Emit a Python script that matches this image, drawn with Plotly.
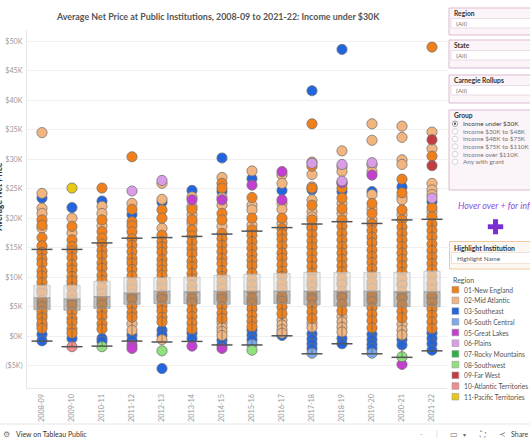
import plotly.graph_objects as go

# ---------------- data (values in $K) ----------------
years = ["2008-09", "2009-10", "2010-11", "2011-12", "2012-13", "2013-14", "2014-15",
         "2015-16", "2016-17", "2017-18", "2018-19", "2019-20", "2020-21", "2021-22"]

region_names = ["01-New England", "02-Mid Atlantic", "03-Southeast", "04-South Central",
                "05-Great Lakes", "06-Plains", "07-Rocky Mountains", "08-Southwest",
                "09-Far West", "10-Atlantic Territories", "11-Pacific Territories"]
region_colors = ["#F0801C", "#F2B57F", "#2165E0", "#7BA9EE", "#C23FD0", "#D99DE8",
                 "#2DB043", "#8FE27C", "#C23C42", "#F28C8C", "#E8C814"]

new_england = {
    "2008-09": [19.7, 18.8, 16.7, 15.3, 14.2, 13.1, 12.3, 11.0, 10.2, 9.1, 8.0, 7.2, 6.1, 5.0, 4.2, 3.1, 2.2, 1.3],
    "2009-10": [18.6, 16.3, 15.2, 14.4, 13.3, 12.1, 11.2, 10.1, 9.3, 8.2, 7.1, 6.0, 5.2, 4.1, 3.0, 2.3, 1.2, 0.5],
    "2010-11": [25.1, 19.7, 17.7, 16.6, 15.6, 14.5, 13.6, 12.4, 11.5, 10.3, 9.4, 8.3, 7.2, 6.4, 5.3, 4.2, 3.3, 2.1, 1.2],
    "2011-12": [30.4, 21.5, 19.4, 18.7, 17.7, 16.5, 15.4, 14.3, 13.2, 12.4, 11.3, 10.2, 9.1, 8.0, 7.1, 6.2, 5.1, 4.0, 3.2],
    "2012-13": [21.4, 20.0, 17.1, 16.0, 15.1, 14.2, 13.0, 12.1, 11.2, 10.3, 9.2, 8.1, 7.0, 6.2, 5.1, 4.3, 3.2, 2.4],
    "2013-14": [21.5, 19.7, 18.0, 17.0, 15.9, 14.8, 13.9, 12.7, 11.8, 10.6, 9.7, 8.6, 7.5, 6.5, 5.6, 4.4, 3.3, 2.2, 1.2],
    "2014-15": [25.9, 25.1, 20.8, 19.7, 17.4, 16.5, 15.4, 14.3, 13.2, 12.3, 11.1, 10.1, 9.2, 8.0, 7.1, 6.2, 5.0, 3.9, 3.0],
    "2015-16": [23.5, 20.0, 18.0, 17.1, 16.0, 14.9, 13.8, 12.8, 11.9, 10.7, 9.6, 8.7, 7.6, 6.5, 5.5, 4.6, 3.5, 2.5, 1.6],
    "2016-17": [20.0, 18.2, 17.3, 16.4, 15.3, 14.1, 13.2, 12.1, 11.0, 10.1, 9.0, 7.9, 6.8, 5.9, 4.9, 3.8],
    "2017-18": [36.0, 28.8, 25.1, 22.2, 19.7, 18.3, 17.2, 16.1, 15.1, 14.0, 12.9, 11.8, 10.7, 9.6, 8.5, 7.4, 6.3, 5.2, 4.1, 3.0],
    "2018-19": [25.1, 23.4, 21.6, 19.7, 18.6, 17.4, 16.3, 15.2, 14.1, 13.0, 11.9, 10.9, 9.8, 8.7, 7.6, 6.5, 5.4, 4.3],
    "2019-20": [22.5, 20.8, 19.0, 17.9, 16.8, 15.8, 14.6, 13.5, 12.5, 11.4, 10.3, 9.2, 8.1, 7.0, 5.9, 4.8, 3.7, 2.6, 1.4],
    "2020-21": [26.6, 24.3, 21.4, 19.7, 18.5, 17.4, 16.3, 15.2, 14.1, 13.0, 11.9, 10.8, 9.7, 8.6, 7.5, 6.4, 5.3, 4.2, 3.1],
    "2021-22": [49.0, 30.5, 21.8, 20.2, 19.0, 17.9, 16.8, 15.6, 14.5, 13.4, 12.3, 11.2, 10.1, 9.0, 7.9, 6.8, 5.7, 4.6, 3.5, 2.4, 1.3],
}
mid_atlantic = {
    "2008-09": [34.5, 24.2, 21.7, 20.8, 18.3, 7.6, 5.6, 3.6, 1.8],
    "2009-10": [20.0, 17.5, 8.6, 6.6],
    "2010-11": [22.0, 20.8, 18.7, 7.8, 5.8],
    "2011-12": [22.5, 8.5, 6.6, 2.1, 1.0],
    "2012-13": [25.9, 23.2, 18.3, 8.7, 6.6, -0.6],
    "2013-14": [23.6, 22.0, 20.6, 19.1, 8.2, 6.0],
    "2014-15": [26.9, 23.5, 22.2, 18.6, 8.5, 6.6, 2.3, 1.5, 0.8, 0.1],
    "2015-16": [28.0, 22.2, 21.4, 18.8, 8.2, 6.0],
    "2016-17": [27.3, 25.9, 22.5, 21.5, 19.1, 8.4, 6.3, 2.7, 1.9, 1.1, 0.5],
    "2017-18": [29.5, 27.4, 25.3, 23.1, 21.1, 20.2, 18.6, 8.9, 6.8, 2.2, 1.5],
    "2018-19": [31.4, 28.7, 27.9, 25.9, 22.5, 20.8, 9.1, 6.9, 3.3, 2.4, 1.5, 0.7],
    "2019-20": [36.0, 33.2, 29.0, 27.9, 24.0, 21.6, 19.7, 8.7, 6.4],
    "2020-21": [35.6, 33.7, 29.9, 29.1, 23.6, 23.1, 20.6, 8.9, 6.6, 2.0, 1.0, 0.2],
    "2021-22": [34.6, 31.8, 25.9, 24.8, 24.0, 21.1, 8.7, 6.5],
}
southeast = {
    "2008-09": [23.4, 0.3, -0.8], "2009-10": [21.8, -0.4], "2010-11": [22.9, -0.4, -0.9],
    "2011-12": [20.6, 0.2, -0.7], "2012-13": [22.7, 1.0, 0.2, -5.5], "2013-14": [24.7, 0.5, -0.4],
    "2014-15": [30.2, 24.5, -0.7, -1.5], "2015-16": [26.7, 1.0, 0.2, -0.6], "2016-17": [24.7, 0.1],
    "2017-18": [41.6, 24.8, 0.4, -0.5, -1.3, -2.1], "2018-19": [48.6, 24.5, -0.4, -1.3],
    "2019-20": [24.5, 0.3, -0.6, -1.4, -2.1], "2020-21": [25.3, -0.6, -1.5],
    "2021-22": [22.8, 0.5, -0.4, -1.3, -2.4],
}
south_central = {"2015-16": [-1.4], "2017-18": [-2.9], "2019-20": [-2.9]}
great_lakes = {"2011-12": [-1.5, -2.1], "2013-14": [23.1, -1.7], "2014-15": [23.1, -2.1],
               "2015-16": [25.6], "2016-17": [27.9, 23.1], "2018-19": [26.0], "2019-20": [27.3],
               "2020-21": [-4.8]}
plains = {"2011-12": [24.6], "2012-13": [26.4], "2017-18": [29.3], "2018-19": [29.1, 26.3],
          "2019-20": [29.4], "2021-22": [23.4]}
rocky_mountains = {}
southwest = {"2010-11": [-1.8], "2012-13": [-2.5], "2015-16": [-2.4], "2020-21": [-3.5]}
far_west = {"2021-22": [33.3, 28.9]}
atlantic_territories = {"2009-10": [-1.8]}
pacific_territories = {"2009-10": [25.1]}

# box plot statistics ($K)
box_q1 = [4.5, 4.4, 4.7, 5.4, 5.5, 5.5, 5.4, 5.4, 5.5, 5.3, 5.1, 5.1, 5.0, 5.0]
box_median = [6.5, 6.3, 6.7, 7.3, 7.6, 7.5, 7.6, 7.6, 7.6, 7.6, 7.6, 7.6, 7.5, 7.5]
box_q3 = [8.6, 8.6, 9.3, 9.9, 9.9, 10.0, 10.3, 10.5, 10.6, 10.8, 10.8, 10.8, 10.8, 11.0]
whisker_high = [14.7, 14.7, 15.8, 16.6, 16.7, 16.9, 17.3, 17.8, 18.4, 19.0, 19.4, 19.1, 19.7, 19.8]
whisker_low = [-0.85, -1.8, -1.7, -0.85, -1.0, -0.9, -1.5, -1.5, 0.05, -3.0, -1.3, -3.0, -3.6, -2.5]

y_ticks = [-5, 0, 5, 10, 15, 20, 25, 30, 35, 40, 45, 50]
y_ticktext = ["($5K)", "$0K", "$5K", "$10K", "$15K", "$20K", "$25K", "$30K", "$35K",
              "$40K", "$45K", "$50K"]

group_options = ["Income under $30K", "Income $30K to $48K", "Income $48K to $75K",
                 "Income $75K to $110K", "Income over $110K", "Any with grant"]

# ---------------- figure ----------------
W, H = 530, 442
L, R, T, B = 27, 83, 30, 54
PW, PH = W - L - R, H - T - B
FONT = "Lato"


def px(x):
    return (x - L) / PW


def py(y):
    return (H - B - y) / PH


fig = go.Figure()

region_data = [new_england, mid_atlantic, southeast, south_central, great_lakes, plains,
               rocky_mountains, southwest, far_west, atlantic_territories, pacific_territories]
draw_order = [2, 3, 1, 0, 4, 5, 6, 7, 8, 9, 10]
for ri in draw_order:
    d = region_data[ri]
    xs, ys = [], []
    for yi, yr in enumerate(years):
        for v in d.get(yr, []):
            xs.append(yi)
            ys.append(v * 1000)
    fig.add_trace(go.Scatter(
        x=xs, y=ys, mode="markers", name=region_names[ri], showlegend=False,
        marker=dict(size=10.2, color=region_colors[ri],
                    line=dict(width=0.9, color="rgba(115,115,115,0.85)")),
        hoverinfo="skip"))

# box (two-tone) overlays
bw = 0.27
lo_x, lo_y, up_x, up_y = [], [], [], []
for i in range(len(years)):
    lo_x += [i - bw, i + bw, i + bw, i - bw, i - bw, None]
    lo_y += [box_q1[i] * 1000, box_q1[i] * 1000, box_median[i] * 1000, box_median[i] * 1000,
             box_q1[i] * 1000, None]
    up_x += [i - bw, i + bw, i + bw, i - bw, i - bw, None]
    up_y += [box_median[i] * 1000, box_median[i] * 1000, box_q3[i] * 1000, box_q3[i] * 1000,
             box_median[i] * 1000, None]
fig.add_trace(go.Scatter(x=up_x, y=up_y, mode="lines", fill="toself",
                         fillcolor="rgba(228,228,228,0.62)",
                         line=dict(color="rgba(190,190,190,0.9)", width=0.8),
                         showlegend=False, hoverinfo="skip"))
fig.add_trace(go.Scatter(x=lo_x, y=lo_y, mode="lines", fill="toself",
                         fillcolor="rgba(135,135,135,0.5)",
                         line=dict(color="rgba(150,150,150,0.9)", width=0.8),
                         showlegend=False, hoverinfo="skip"))

# whisker stems
wx, wy = [], []
for i in range(len(years)):
    wx += [i, i, None, i, i, None]
    wy += [box_q3[i] * 1000, whisker_high[i] * 1000, None,
           box_q1[i] * 1000, whisker_low[i] * 1000, None]
fig.add_trace(go.Scatter(x=wx, y=wy, mode="lines",
                         line=dict(color="rgba(90,90,90,0.6)", width=1),
                         showlegend=False, hoverinfo="skip"))
# whisker caps
cap_x = list(range(len(years))) * 2
cap_y = [v * 1000 for v in whisker_high] + [v * 1000 for v in whisker_low]
fig.add_trace(go.Scatter(x=cap_x, y=cap_y, mode="markers",
                         marker=dict(symbol="line-ew", size=15,
                                     line=dict(width=1.5, color="#555555")),
                         showlegend=False, hoverinfo="skip"))

fig.update_xaxes(range=[-0.5, len(years) - 0.5], tickmode="array",
                 tickvals=list(range(len(years))), ticktext=years, tickangle=-90,
                 tickfont=dict(family=FONT, size=7.3, color="#9a9a9a"),
                 showgrid=False, zeroline=False, showline=True, linecolor="#e8e8e8",
                 ticks="outside", ticklen=2, tickcolor="rgba(0,0,0,0)", automargin=False,
                 fixedrange=True)
fig.update_yaxes(range=[-8800, 51900], tickmode="array",
                 tickvals=[v * 1000 for v in y_ticks], ticktext=y_ticktext,
                 tickfont=dict(family=FONT, size=7.2, color="#9a9a9a"),
                 showgrid=True, gridcolor="#f0f0f0", gridwidth=1, zeroline=False,
                 showline=True, linecolor="#e8e8e8",
                 ticks="outside", ticklen=2, tickcolor="rgba(0,0,0,0)", automargin=False,
                 fixedrange=True)

shapes = []
ann = []


def rect(x0, y0, x1, y1, fill, line, lw=1):
    shapes.append(dict(type="rect", xref="paper", yref="paper", x0=px(x0), x1=px(x1),
                       y0=py(y1), y1=py(y0), fillcolor=fill,
                       line=dict(color=line, width=lw), layer="above"))


def text(x, y, s, size=7, color="#333", xanchor="left", bold=False, italic=False,
         angle=0):
    ann.append(dict(xref="paper", yref="paper", x=px(x), y=py(y), text=s, showarrow=False,
                    xanchor=xanchor, yanchor="middle", textangle=angle,
                    font=dict(family=FONT, size=size, color=color,
                              weight="bold" if bold else "normal",
                              style="italic" if italic else "normal")))


# title and axis title
text(218, 16, "Average Net Price at Public Institutions, 2008-09 to 2021-22: Income under $30K",
     size=8.9, color="#555555", xanchor="center", bold=True)
text(-1.2, 197, "Average Net Price", size=8.5, color="#333333", xanchor="center", bold=True,
     angle=-90)

# filter panels
panel_fill, panel_line = "#fbf4f9", "#dcb9d3"
for (top, bot, title) in [(8, 35, "Region"), (40, 68, "State"), (75, 103, "Carnegie Rollups")]:
    rect(449, top, 533, bot, panel_fill, panel_line)
    rect(451, top + 10.5, 533, top + 20, "#ffffff", "#e6d6e2", 0.8)
    text(451.5, top + 4.5, title, size=6.7, color="#333333", bold=True)
    text(453.5, top + 15.3, "(All)", size=6.5, color="#777777")

rect(449, 110, 533, 190, panel_fill, panel_line)
text(451.5, 115, "Group", size=6.7, color="#333333", bold=True)
opt_y = [123.7, 131.3, 138.9, 146.5, 154.1, 161.7]
for k, (oy, s) in enumerate(zip(opt_y, group_options)):
    shapes.append(dict(type="circle", xref="paper", yref="paper", x0=px(452.3), x1=px(457.7),
                       y0=py(oy + 2.7), y1=py(oy - 2.7), fillcolor="#ffffff",
                       line=dict(color="#888888" if k == 0 else "#cccccc", width=0.8),
                       layer="above"))
    if k == 0:
        shapes.append(dict(type="circle", xref="paper", yref="paper", x0=px(453.9),
                           x1=px(456.1), y0=py(oy + 1.1), y1=py(oy - 1.1),
                           fillcolor="#444444", line=dict(width=0), layer="above"))
    text(460.5, oy, s, size=6.4, color="#444444" if k == 0 else "#777777")

# hover hint and plus
text(456, 205, "Hover over + for info", size=9, color="#8a4fe0", italic=True)
rect(487.8, 224.3, 503.2, 229.2, "#7a2fd4", "#7a2fd4", 0)
rect(493.0, 219.2, 498.0, 234.3, "#7a2fd4", "#7a2fd4", 0)

# highlight panel
rect(449.5, 241.5, 533, 269, "#fdf7f1", "#f2c79f")
text(451.5, 247.5, "Highlight Institution", size=6.8, color="#333333", bold=True)
rect(451.5, 252.5, 533, 263.5, "#ffffff", "#eeddd0", 0.8)
text(454.5, 258, "Highlight Name", size=6.3, color="#555555")

# legend
text(451, 279.5, "Region", size=7, color="#555555")
leg_y = [289.7, 300.4, 311.1, 321.8, 332.5, 343.2, 353.9, 364.6, 375.3, 386.0, 396.7]
for c, nm, ly in zip(region_colors, region_names, leg_y):
    rect(452, ly - 3.3, 458.8, ly + 3.3, c, "#9a9a9a", 0.6)
    text(461.5, ly, nm, size=6.7, color="#555555")

# bottom toolbar
shapes.append(dict(type="line", xref="paper", yref="paper", x0=px(0), x1=px(530),
                   y0=py(424), y1=py(424), line=dict(color="#e6e6e6", width=1)))
text(6.5, 434, "⚙", size=8, color="#777777", xanchor="center")
text(14, 434, "View on Tableau Public", size=7, color="#333333")
text(421.5, 434, "-", size=7, color="#999999", xanchor="center")
text(436.5, 434, "|", size=7, color="#cccccc", xanchor="center")
text(454, 434, "▭", size=8, color="#666666", xanchor="center")
text(464, 434, "▾", size=6, color="#666666", xanchor="center")
text(482.5, 434, "⛶", size=8, color="#666666", xanchor="center")
text(502, 434, "≺", size=8, color="#666666", xanchor="center")
text(509, 434, "Share", size=7, color="#444444")

fig.update_layout(width=W, height=H, margin=dict(l=L, r=R, t=T, b=B, pad=0, autoexpand=False),
                  paper_bgcolor="#ffffff", plot_bgcolor="#ffffff",
                  showlegend=False, shapes=shapes, annotations=ann,
                  font=dict(family=FONT))

fig.write_html("out.html", config={"displayModeBar": False},
               post_script="document.body.style.margin='0';document.body.style.padding='0';")
